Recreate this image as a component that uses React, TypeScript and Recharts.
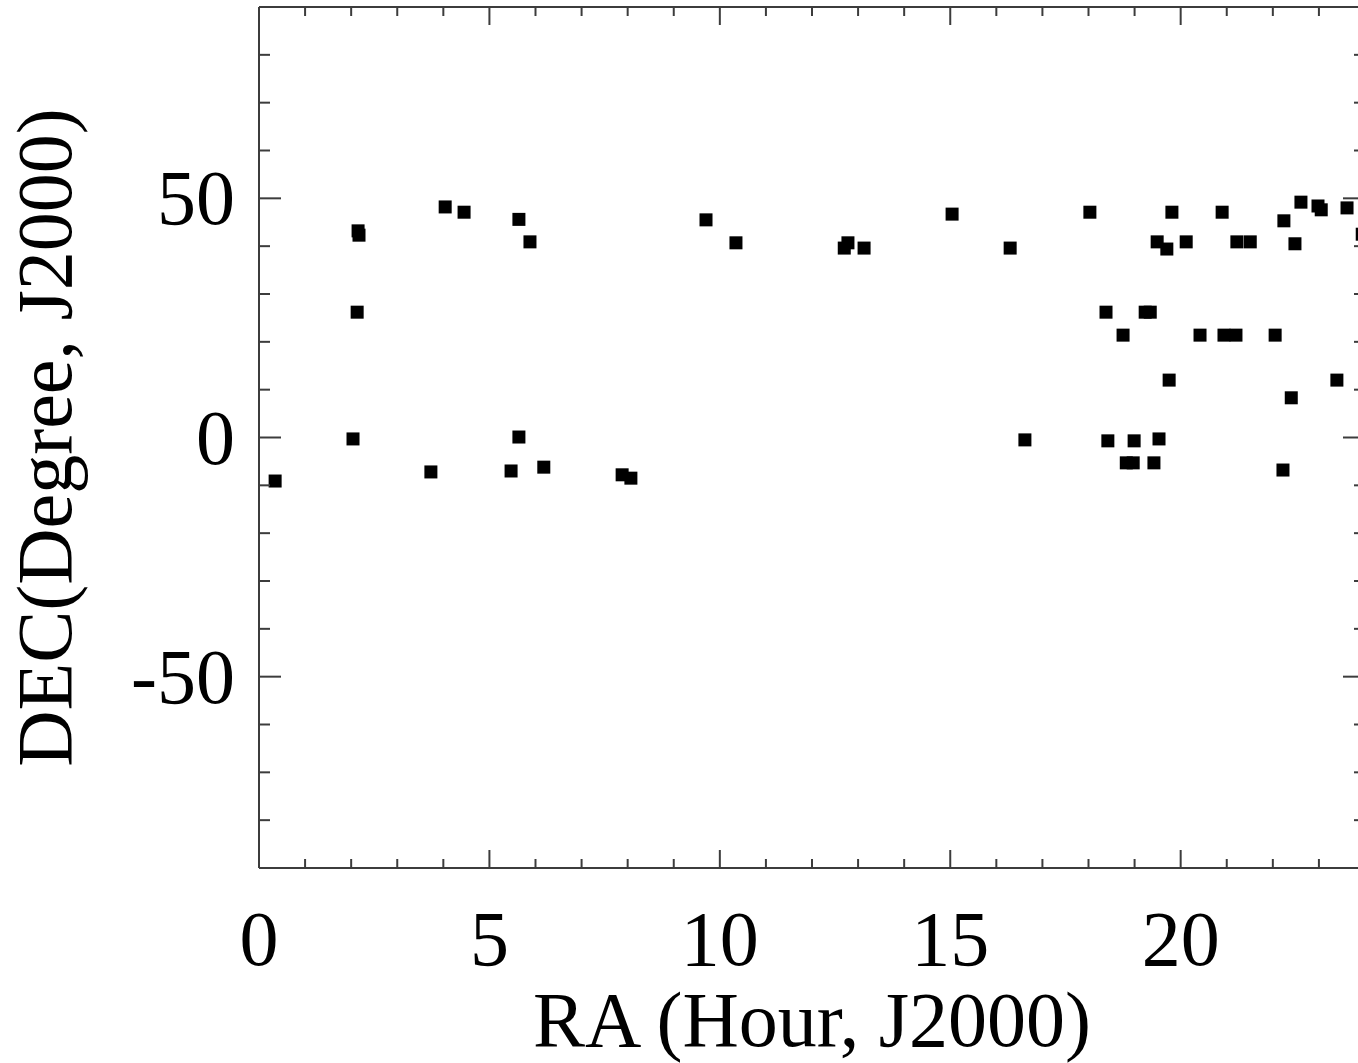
import React from 'react';
import { ScatterChart, Scatter, XAxis, YAxis } from 'recharts';

// ---- data ----
const raHours: number[] = [
  0.35, 2.04, 2.15, 2.17, 2.13, 4.04, 4.45, 5.64, 5.88, 5.64,
  3.73, 5.47, 6.18, 7.88, 8.07, 9.70, 10.35, 12.70, 12.78, 13.13,
  15.04, 16.30, 16.62, 18.03, 19.81, 20.90, 22.61, 22.98, 23.05, 23.61,
  22.24, 19.49, 19.70, 20.12, 21.22, 21.51, 22.48, 18.38, 19.23, 19.34,
  18.75, 20.42, 20.94, 21.20, 22.05, 19.75, 23.39, 22.40, 18.42, 18.99,
  19.53, 18.82, 18.97, 19.42, 22.22, 23.94,
];
const decDegrees: number[] = [
  -9.1, -0.3, 43.2, 42.3, 26.2, 48.2, 47.1, 45.6, 40.9, 0.1,
  -7.2, -7.0, -6.2, -7.8, -8.5, 45.5, 40.7, 39.6, 40.7, 39.6,
  46.7, 39.6, -0.5, 47.1, 47.1, 47.1, 49.2, 48.4, 47.6, 48.0,
  45.3, 40.9, 39.4, 40.9, 40.9, 40.9, 40.5, 26.2, 26.2, 26.2,
  21.4, 21.4, 21.4, 21.4, 21.4, 12.0, 12.0, 8.3, -0.7, -0.7,
  -0.3, -5.3, -5.3, -5.3, -6.8, 42.5,
];

const xTicks: number[] = [0, 1, 2, 3, 4, 5, 6, 7, 8, 9, 10, 11, 12, 13, 14, 15, 16, 17, 18, 19, 20, 21, 22, 23, 24];
const xMajorTicks: number[] = [0, 5, 10, 15, 20];
const yTicks: number[] = [-90, -80, -70, -60, -50, -40, -30, -20, -10, 0, 10, 20, 30, 40, 50, 60, 70, 80, 90];
const yMajorTicks: number[] = [-50, 0, 50];
const xDomain: [number, number] = [0, 24];
const yDomain: [number, number] = [-90, 90];
const xTitle = 'RA (Hour, J2000)';
const yTitle = 'DEC(Degree, J2000)';

const points = raHours.map((ra, i) => ({ ra, dec: decDegrees[i] }));

// ---- layout / styling ----
const CHART_W = 1400;
const CHART_H = 1063;
const MARGIN = { top: 6, right: 34, bottom: 45, left: 79 };
const TOP_AXIS_H = 1;
const PLOT_TOP = MARGIN.top + TOP_AXIS_H;
const AXIS_COLOR = '#3c3c3c';
const FONT = '"Liberation Serif", "Times New Roman", serif';
const FONT_SIZE = 78;
const X_MAJOR = 18;
const X_MINOR = 9;
const Y_MAJOR = 22;
const Y_MINOR = 11;

const BottomTick = (props: any) => {
  const { x, y, payload } = props;
  const v = payload.value;
  const major = xMajorTicks.includes(v);
  const len = major ? X_MAJOR : X_MINOR;
  return (
    <g>
      <line x1={x} x2={x} y1={y} y2={y - len} stroke={AXIS_COLOR} strokeWidth={2} />
      <line x1={x} x2={x} y1={PLOT_TOP} y2={PLOT_TOP + len} stroke={AXIS_COLOR} strokeWidth={2} />
      {major && (
        <text x={x} y={y + 97} textAnchor="middle" fontFamily={FONT} fontSize={FONT_SIZE} fill="#000">
          {v}
        </text>
      )}
    </g>
  );
};

const LeftTick = (props: any) => {
  const { x, y, payload } = props;
  const v = payload.value;
  const major = yMajorTicks.includes(v);
  return (
    <g>
      <line x1={x} x2={x + (major ? Y_MAJOR : Y_MINOR)} y1={y} y2={y} stroke={AXIS_COLOR} strokeWidth={2} />
      {major && (
        <text x={x - 24} y={y + 26} textAnchor="end" fontFamily={FONT} fontSize={FONT_SIZE} fill="#000">
          {v}
        </text>
      )}
    </g>
  );
};

const RightTick = (props: any) => {
  const { x, y, payload } = props;
  const major = yMajorTicks.includes(payload.value);
  return <line x1={x} x2={x - (major ? Y_MAJOR : Y_MINOR)} y1={y} y2={y} stroke={AXIS_COLOR} strokeWidth={2} />;
};

const XTitle = (props: any) => {
  const vb = props.viewBox || { x: 259, y: 868, width: 1106, height: 150 };
  return (
    <text x={vb.x + vb.width / 2} y={vb.y + 178} textAnchor="middle" fontFamily={FONT} fontSize={FONT_SIZE} fill="#000">
      {xTitle}
    </text>
  );
};

const YTitle = (props: any) => {
  const vb = props.viewBox || { x: 79, y: 7, width: 180, height: 861 };
  const cx = 71;
  const cy = vb.y + vb.height / 2;
  return (
    <text x={cx} y={cy} transform={`rotate(-90, ${cx}, ${cy})`} textAnchor="middle" fontFamily={FONT} fontSize={FONT_SIZE} fill="#000">
      {yTitle}
    </text>
  );
};

const Square = (props: any) => {
  const { cx, cy } = props;
  return <rect x={cx - 6.5} y={cy - 6.5} width={13} height={13} fill="#000" />;
};

const axisLine = { stroke: AXIS_COLOR, strokeWidth: 2 };

export default function App() {
  return (
    <div style={{ position: 'absolute', left: 0, top: 0, width: 1358, height: 1063, overflow: 'hidden', background: '#fff' }}>
      <ScatterChart width={CHART_W} height={CHART_H} margin={MARGIN}>
        <XAxis
          dataKey="ra"
          type="number"
          domain={xDomain}
          ticks={xTicks}
          interval={0}
          allowDataOverflow
          height={150}
          tickSize={0}
          tickMargin={0}
          tickLine={false}
          axisLine={axisLine}
          tick={(p: any) => <BottomTick {...p} />}
          label={(p: any) => <XTitle {...p} />}
        />
        <XAxis
          xAxisId="top"
          orientation="top"
          type="number"
          domain={xDomain}
          ticks={xTicks}
          interval={0}
          allowDataOverflow
          height={TOP_AXIS_H}
          tickSize={0}
          tickMargin={0}
          tickLine={false}
          axisLine={axisLine}
          tick={false}
        />
        <YAxis
          dataKey="dec"
          type="number"
          domain={yDomain}
          ticks={yTicks}
          interval={0}
          allowDataOverflow
          width={180}
          tickSize={0}
          tickMargin={0}
          tickLine={false}
          axisLine={axisLine}
          tick={(p: any) => <LeftTick {...p} />}
          label={(p: any) => <YTitle {...p} />}
        />
        <YAxis
          yAxisId="right"
          orientation="right"
          type="number"
          domain={yDomain}
          ticks={yTicks}
          interval={0}
          allowDataOverflow
          width={1}
          tickSize={0}
          tickMargin={0}
          tickLine={false}
          axisLine={axisLine}
          tick={(p: any) => <RightTick {...p} />}
        />
        <Scatter data={points} fill="#000" shape={(p: any) => <Square {...p} />} isAnimationActive={false} />
      </ScatterChart>
    </div>
  );
}
